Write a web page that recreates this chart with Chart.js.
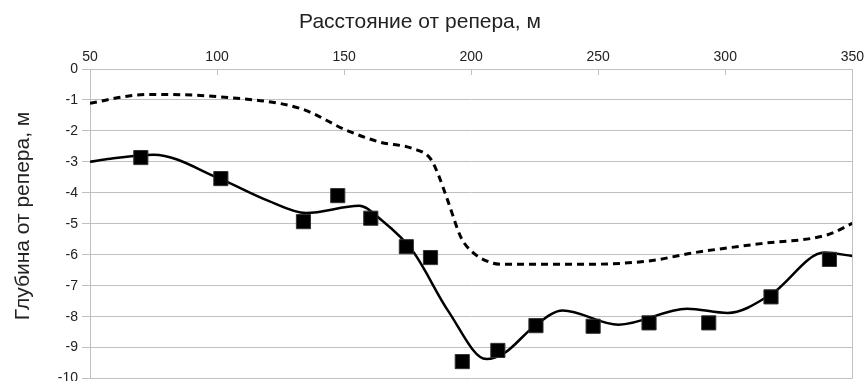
<!DOCTYPE html>
<html>
<head>
<meta charset="utf-8">
<script src="https://cdn.jsdelivr.net/npm/chart.js@4/dist/chart.umd.min.js"></script>
<style>
  html, body { margin: 0; padding: 0; background: #fff; overflow: hidden; }
  #wrap { width: 864px; height: 381px; overflow: hidden; }
</style>
</head>
<body>
<div id="wrap"><canvas id="chart" width="873" height="391"></canvas></div>
<script>
// measured points (squares)
const markerX = [70, 101.5, 134, 147.5, 160.5, 174.5, 184, 196.5, 210.5, 225.5, 248, 270, 293.5, 318, 341];
const markerY = [-2.86, -3.54, -4.93, -4.09, -4.82, -5.74, -6.09, -9.45, -9.09, -8.29, -8.31, -8.2, -8.2, -7.36, -6.15];

// smoothed solid line
const solidX = [50, 58, 75, 101, 120, 135, 156, 165, 177, 191, 206, 213, 225, 236, 258, 285, 301, 318, 339, 350];
const solidY = [-3.0, -2.9, -2.77, -3.54, -4.25, -4.65, -4.42, -4.9, -5.88, -7.82, -9.37, -9.18, -8.3, -7.8, -8.26, -7.74, -7.88, -7.28, -5.93, -6.04];

// dashed line
const dashX = [50, 67, 75, 101, 133, 151, 164, 177, 184, 187, 191, 196, 200, 208, 213, 243, 270, 288, 314, 340, 350];
const dashY = [-1.11, -0.85, -0.82, -0.9, -1.28, -1.98, -2.36, -2.57, -2.9, -3.4, -4.3, -5.44, -5.88, -6.26, -6.31, -6.31, -6.2, -5.93, -5.64, -5.36, -4.99];

const xTitle = 'Расстояние от репера, м';
const yTitle = 'Глубина от репера, м';

const toPoints = (xs, ys) => xs.map((x, i) => ({x: x, y: ys[i]}));

const gridColor = '#c0c0c0';
const textColor = '#222';
const fontFamily = '"Liberation Sans", Arial, sans-serif';

// titles drawn by hand, the original has them a bit off-center
const axisTitles = {
  id: 'axisTitles',
  afterDraw(chart) {
    const ctx = chart.ctx;
    ctx.save();
    ctx.fillStyle = textColor;
    ctx.font = '21px ' + fontFamily;
    ctx.textAlign = 'center';
    ctx.textBaseline = 'alphabetic';
    ctx.fillText(xTitle, 420, 28);
    ctx.translate(28.5, 216);
    ctx.rotate(-Math.PI / 2);
    ctx.fillText(yTitle, 0, 0);
    ctx.restore();
  }
};

Chart.defaults.font.family = fontFamily;
Chart.defaults.font.size = 14;
Chart.defaults.color = textColor;

new Chart(document.getElementById('chart'), {
  type: 'line',
  data: {
    datasets: [
      {
        label: 'points',
        data: toPoints(markerX, markerY),
        showLine: false,
        pointStyle: 'rect',
        pointRadius: 10,
        pointBackgroundColor: '#000',
        pointBorderColor: '#333',
        pointBorderWidth: 1,
        order: 0
      },
      {
        label: 'solid',
        data: toPoints(solidX, solidY),
        borderColor: '#000',
        borderWidth: 2.5,
        pointRadius: 0,
        cubicInterpolationMode: 'monotone',
        order: 1
      },
      {
        label: 'dashed',
        data: toPoints(dashX, dashY),
        borderColor: '#000',
        borderWidth: 3,
        borderDash: [7, 5],
        borderCapStyle: 'butt',
        pointRadius: 0,
        cubicInterpolationMode: 'monotone',
        order: 2
      }
    ]
  },
  options: {
    responsive: false,
    animation: false,
    plugins: { legend: { display: false }, tooltip: { enabled: false } },
    scales: {
      x: {
        type: 'linear',
        position: 'top',
        min: 50,
        max: 350,
        ticks: { stepSize: 50, padding: 9 },
        grid: {
          color: c => (c.tick && c.tick.value === 350) ? gridColor : 'rgba(0,0,0,0)',
          tickColor: gridColor,
          tickLength: -6
        },
        border: { color: gridColor },
        afterFit: s => { s.height = 69; }
      },
      y: {
        type: 'linear',
        min: -10,
        max: 0,
        ticks: { stepSize: 1, padding: 4 },
        grid: { color: gridColor, tickColor: gridColor, tickLength: 8 },
        border: { color: gridColor },
        afterFit: s => { s.width = 90; }
      }
    }
  },
  plugins: [axisTitles]
});
</script>
</body>
</html>
